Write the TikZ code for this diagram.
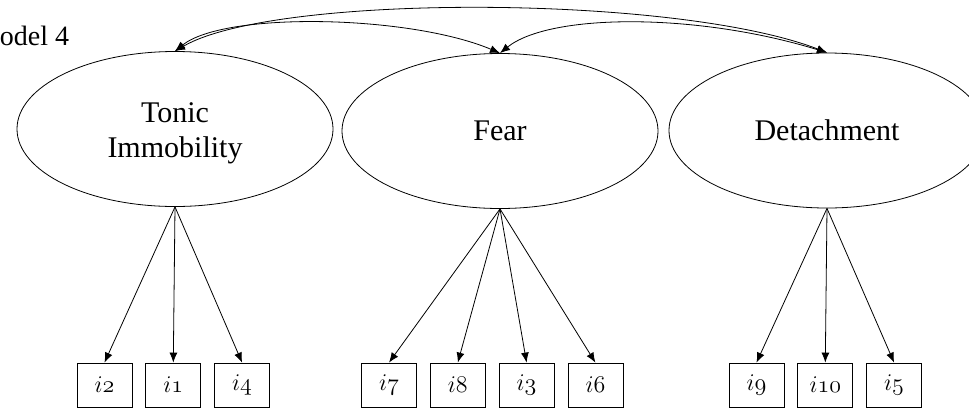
\documentclass[tikz,border=0pt]{standalone}
\usepackage{fontspec}
\setmainfont{Liberation Serif}
\usetikzlibrary{positioning,shapes.geometric,arrows.meta}
\tikzset{
  factor/.style={draw, ellipse, minimum width=158pt, minimum height=77.5pt, inner sep=0pt, align=center, font=\fontsize{15}{17.5}\selectfont},
  item/.style={draw, minimum width=27.5pt, minimum height=22pt, inner sep=0pt, font=\fontsize{12.5}{14}\selectfont},
  load/.style={-{Latex[length=5pt,width=4pt]}},
  cov/.style={{Latex[length=5pt,width=4pt]}-{Latex[length=5pt,width=4pt]}},
}
\newcommand{\itm}[1]{$i\mathnormal{#1}$}

\begin{document}
\begin{tikzpicture}[x=0.5pt,y=0.5pt]
  \clip (0,0) rectangle (969,409);

  \node[anchor=base west, font=\fontsize{14}{16}\selectfont] (title) at (-32,364) {Model 4};

  % latent factors
  \node[factor] (tonic)  at (175,280)   {};
  \node[align=center, font=\fontsize{15}{17.5}\selectfont] (tonictxt) at (175,276) {Tonic\\Immobility};
  \node[factor] (fear)   at (500,278)   {Fear};
  \node[factor] (detach) at (827,278.5) {Detachment};

  % indicators
  \node[item] (i2) at (104.5,24) {\itm{2}};
  \node[item, right=6.5pt of i2] (i1) {\itm{1}};
  \node[item, right=6.5pt of i1] (i4) {\itm{4}};

  \node[item] (i7) at (389,24) {\itm{7}};
  \node[item, right=6.5pt of i7] (i8) {\itm{8}};
  \node[item, right=6.5pt of i8] (i3) {\itm{3}};
  \node[item, right=6.5pt of i3] (i6) {\itm{6}};

  \node[item] (i9) at (756.5,24) {\itm{9}};
  \node[item, right=6.5pt of i9] (i10) {\itm{10}};
  \node[item, right=6.5pt of i10] (i5) {\itm{5}};

  % loadings
  \foreach \b in {i2,i1,i4} \draw[load] (tonic.south) -- (\b.north);
  \foreach \b in {i7,i8,i3,i6} \draw[load] (fear.south) -- (\b.north);
  \foreach \b in {i9,i10,i5} \draw[load] (detach.south) -- (\b.north);

  % covariances
  \draw[cov] (tonic.north) .. controls +(50,40) and +(-90,38) .. (fear.north);
  \draw[cov] (fear.north) .. controls +(50,40) and +(-130,40) .. (detach.north);
  \draw[cov] (tonic.north) .. controls +(100,58) and +(-150,58) .. (detach.north);
\end{tikzpicture}
\end{document}
